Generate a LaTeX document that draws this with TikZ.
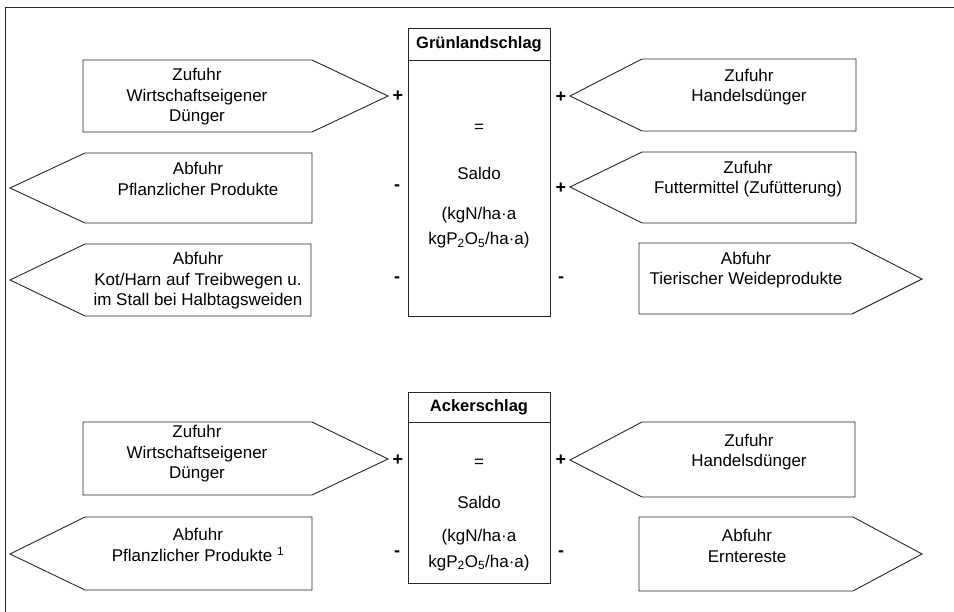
\documentclass[tikz,border=0pt]{standalone}
\usepackage{fontspec}
\setmainfont{Liberation Sans}
\usepackage{tikz}

\begin{document}
\begin{tikzpicture}[x=1pt,y=-1pt,
    frm/.style={draw=black!85, line width=0.9pt, line join=miter},
    lbl/.style={align=center, inner sep=0pt, font=\fontsize{17}{20.5}\selectfont},
    ttl/.style={inner sep=0pt, font=\fontsize{16.5}{20}\selectfont\bfseries},
    sgn/.style={inner sep=0pt, font=\fontsize{18}{20}\selectfont\bfseries}]
    \useasboundingbox (0,0) rectangle (954,612);
    % frame (cut off right and bottom)
    \draw [frm] (5.5,612) -- (5.5,7.5) -- (954,7.5);

    % Gruenlandschlag
    \draw [frm] (408,28) rectangle (550,316);
    \draw [frm] (408,60) -- (550,60);
    \node[ttl] (gtitle) at (479,44) {Grünlandschlag};
    \node[lbl] (geq) at (479,128) {=};
    \node[lbl] (gsaldo) at (479,173) {Saldo};
    \node[lbl] (gunit) at (479,228) {(kgN/ha·a\\[4.5pt]kgP\textsubscript{2}O\textsubscript{5}/ha·a)};

    % left
    \draw [frm] (83,60) -- (312,60) -- (388,96) -- (312,132) -- (83,132) -- cycle;
    \node[lbl] (gzwd) at (197,97) {Zufuhr\\Wirtschaftseigener\\Dünger};
    \draw [frm] (312,153) -- (85,153) -- (10,188) -- (85,223) -- (312,223) -- cycle;
    \node[lbl] (gapp) at (198,179) {Abfuhr\\Pflanzlicher Produkte};
    \draw [frm] (311,244) -- (85,244) -- (10,280) -- (85,316) -- (311,316) -- cycle;
    \node[lbl] (gakh) at (198,281) {Abfuhr\\Kot/Harn auf Treibwegen u.\\im Stall bei Halbtagsweiden};

    % right
    \draw [frm] (642,59) -- (856,59) -- (856,131) -- (642,131) -- (570,96) -- cycle;
    \node[lbl] (gzhd) at (749,87) {Zufuhr\\Handelsdünger};
    \draw [frm] (642,152) -- (856,152) -- (856,223) -- (642,223) -- (570,187) -- cycle;
    \node[lbl] (gzfm) at (748,179) {Zufuhr\\Futtermittel (Zufütterung)};
    \draw [frm] (639,243) -- (852,243) -- (922,279) -- (852,314) -- (639,314) -- cycle;
    \node[lbl] (gatw) at (746,270) {Abfuhr\\Tierischer Weideprodukte};

    % signs
    \node[sgn] (gs1) at (398,96) {+};
    \node[sgn] (gs2) at (397,188) {-};
    \node[sgn] (gs3) at (397,280) {-};
    \node[sgn] (gs4) at (561,97) {+};
    \node[sgn] (gs5) at (561,188) {+};
    \node[sgn] (gs6) at (561,280) {-};

    % Ackerschlag
    \draw [frm] (408,392) rectangle (550,583);
    \draw [frm] (408,422) -- (550,422);
    \node[ttl] (atitle) at (479,407) {Ackerschlag};
    \node[lbl] (aeq) at (479,463) {=};
    \node[lbl] (asaldo) at (479,502) {Saldo};
    \node[lbl] (aunit) at (479,550) {(kgN/ha·a\\[5pt]kgP\textsubscript{2}O\textsubscript{5}/ha·a)};

    % left
    \draw [frm] (83,422) -- (312,422) -- (388,459) -- (312,495) -- (83,495) -- cycle;
    \node[lbl] (azwd) at (197,454) {Zufuhr\\Wirtschaftseigener\\Dünger};
    \draw [frm] (312,517) -- (85,517) -- (10,554) -- (85,590) -- (312,590) -- cycle;
    \node[lbl] (aapp) at (198,545) {Abfuhr\\Pflanzlicher Produkte \textsuperscript{1}};

    % right
    \draw [frm] (642,422) -- (855,422) -- (855,497) -- (642,497) -- (570,460) -- cycle;
    \node[lbl] (azhd) at (749,452) {Zufuhr\\Handelsdünger};
    \draw [frm] (639,517) -- (853,517) -- (922,554) -- (853,591) -- (639,591) -- cycle;
    \node[lbl] (aaer) at (747,546) {Abfuhr\\Erntereste};

    % signs
    \node[sgn] (as1) at (398,460) {+};
    \node[sgn] (as2) at (397,554) {-};
    \node[sgn] (as3) at (561,460) {+};
    \node[sgn] (as4) at (561,554) {-};
\end{tikzpicture}
\end{document}
